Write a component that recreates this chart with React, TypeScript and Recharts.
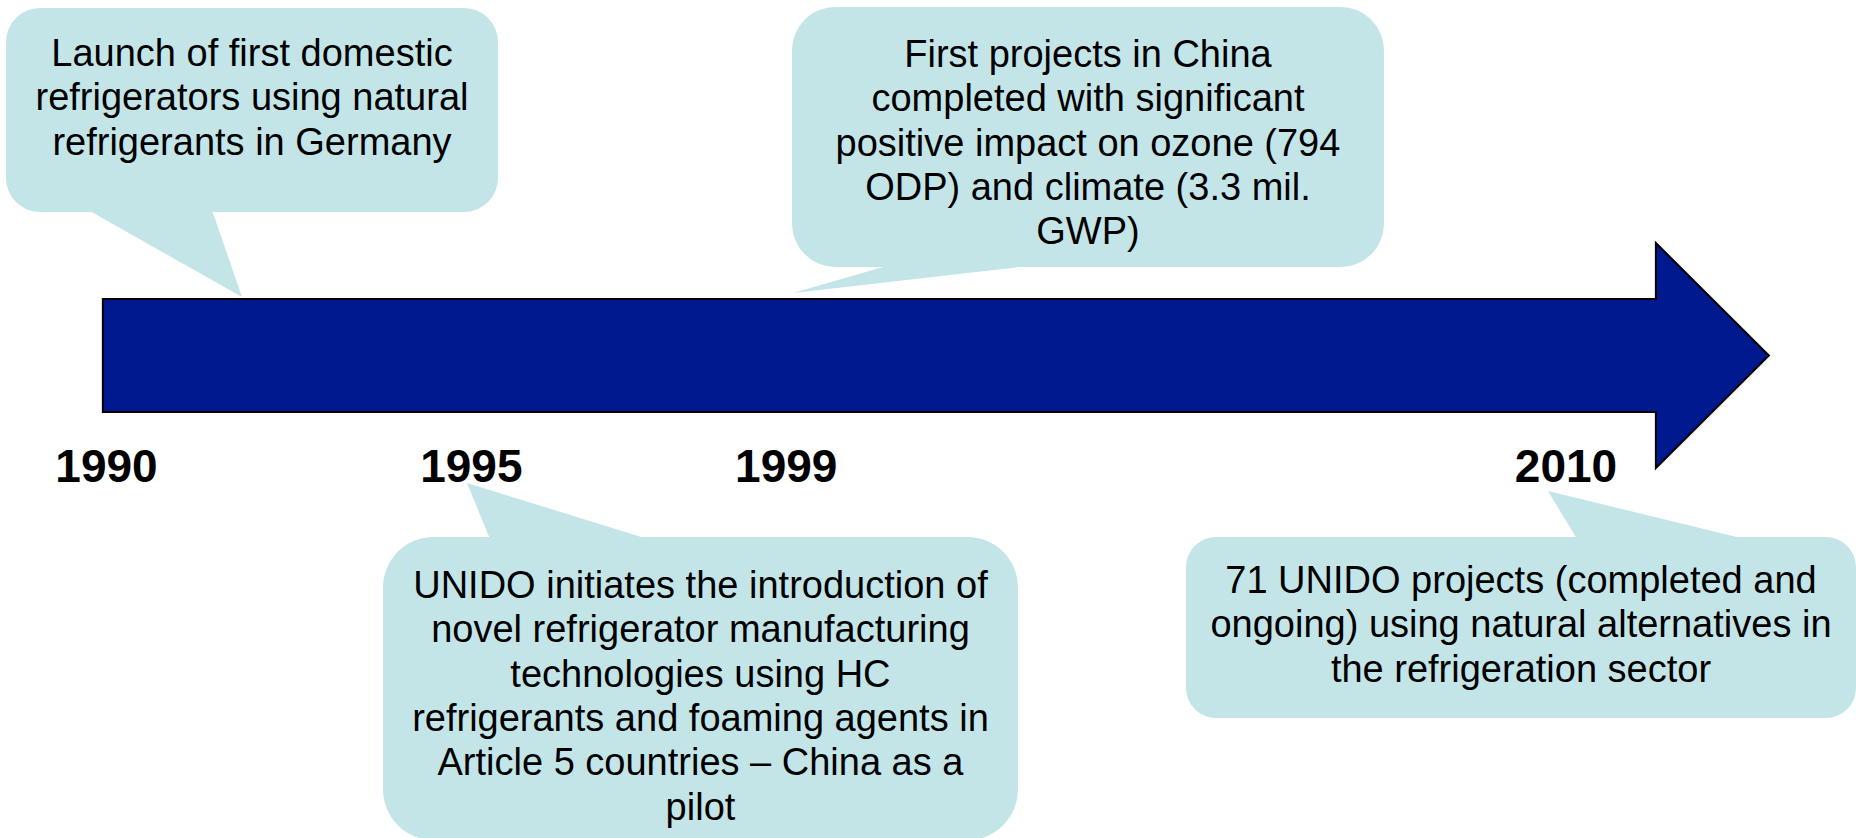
import { ComposedChart, XAxis, YAxis, Scatter, ReferenceArea } from "recharts";

const FONT = '"Liberation Sans", Arial, Helvetica, sans-serif';

// years printed under the timeline arrow
const yearTicks = [1990, 1995, 1999, 2010];

// milestones: year each callout belongs to, and its text line by line
const milestoneYears = [1990, 1999, 1995, 2010];
const milestoneText = [
  ["Launch of first domestic", "refrigerators using natural", "refrigerants in Germany"],
  [
    "First projects in China",
    "completed with significant",
    "positive impact on ozone (794",
    "ODP) and climate (3.3 mil.",
    "GWP)",
  ],
  [
    "UNIDO initiates the introduction of",
    "novel refrigerator manufacturing",
    "technologies using HC",
    "refrigerants and foaming agents in",
    "Article 5 countries – China as a",
    "pilot",
  ],
  [
    "71 UNIDO projects (completed and",
    "ongoing) using natural alternatives in",
    "the refrigeration sector",
  ],
];

// time span covered by the arrow
const arrowFrom = 1989.95;
const arrowTo = 2012.78;

// layout only (pixels relative to the callout tip)
const X_DOMAIN: [number, number] = [1988.5406, 2013.974];
const LABEL_ROW = 482;
const labelNudge: Record<number, number> = { 1999: 23 };
const calloutLayout = [
  { tipDx: 135.5, tipY: 297, box: [-236, -289, 492, 204], base: [-154, -30], textDy: 58 },
  { tipDx: 29.7, tipY: 293, box: [-1, -286, 592, 260], base: [97, 244], textDy: 60 },
  { tipDx: -4.4, tipY: 483, box: [-84, 54, 635, 303], base: [23, 181], textDy: 61 },
  { tipDx: -18, tipY: 491, box: [-362, 46, 670, 181], base: [29, 197], textDy: 56 },
];

const CALLOUT_FILL = "#C4E5E8";
const ARROW_FILL = "#00198F";

const calloutRows = milestoneYears.map((year, i) => ({
  year,
  row: calloutLayout[i].tipY,
  idx: i,
}));
const labelRows = yearTicks.map((year) => ({ year, row: LABEL_ROW }));

const Callout = (props: any) => {
  const { cx, cy, payload } = props;
  if (cx == null || cy == null) return null;
  const lay = calloutLayout[payload.idx];
  const lines = milestoneText[payload.idx];
  const tipX = cx + lay.tipDx;
  const [bx, by, w, h] = lay.box;
  const left = tipX + bx;
  const top = cy + by;
  const below = by > 0;
  const baseY = below ? top + 2 : top + h - 2;
  const r = Math.min(w, h) / 6;
  return (
    <g>
      <polygon
        points={`${tipX},${cy} ${tipX + lay.base[0]},${baseY} ${tipX + lay.base[1]},${baseY}`}
        fill={CALLOUT_FILL}
      />
      <rect x={left} y={top} width={w} height={h} rx={r} ry={r} fill={CALLOUT_FILL} />
      <text
        x={left + w / 2}
        y={top + lay.textDy}
        textAnchor="middle"
        fontFamily={FONT}
        fontSize={38}
        fill="#000"
      >
        {lines.map((ln, k) => (
          <tspan key={k} x={left + w / 2} dy={k === 0 ? 0 : 44.3}>
            {ln}
          </tspan>
        ))}
      </text>
    </g>
  );
};

const YearLabel = (props: any) => {
  const { cx, cy, payload } = props;
  if (cx == null || cy == null) return null;
  return (
    <text
      x={cx + (labelNudge[payload.year] || 0)}
      y={cy}
      textAnchor="middle"
      fontFamily={FONT}
      fontWeight="bold"
      fontSize={46}
      fill="#000"
    >
      {payload.year}
    </text>
  );
};

const Arrow = (props: any) => {
  const { x, y, width, height } = props;
  const inset = 56;
  const head = 113;
  const x1 = x + width - head;
  const x2 = x + width;
  const yb = y + height;
  const pts = [
    [x, y + inset],
    [x1, y + inset],
    [x1, y],
    [x2, y + height / 2],
    [x1, yb],
    [x1, yb - inset],
    [x, yb - inset],
  ]
    .map((p) => p.join(","))
    .join(" ");
  return <polygon points={pts} fill={ARROW_FILL} stroke="#000" strokeWidth={2} />;
};

const App = () => {
  return (
    <div style={{ position: "absolute", left: 0, top: 0, width: 1856, height: 838, background: "#fff" }}>
      <ComposedChart width={1856} height={838} margin={{ top: 0, right: 0, bottom: 0, left: 0 }}>
        <XAxis type="number" dataKey="year" domain={X_DOMAIN} hide allowDataOverflow />
        <YAxis type="number" dataKey="row" domain={[0, 838]} reversed hide allowDataOverflow />
        <ReferenceArea
          x1={arrowFrom}
          x2={arrowTo}
          y1={243}
          y2={468}
          shape={<Arrow />}
          ifOverflow="visible"
        />
        <Scatter data={calloutRows} dataKey="row" shape={<Callout />} isAnimationActive={false} />
        <Scatter data={labelRows} dataKey="row" shape={<YearLabel />} isAnimationActive={false} />
      </ComposedChart>
    </div>
  );
};

export default App;
